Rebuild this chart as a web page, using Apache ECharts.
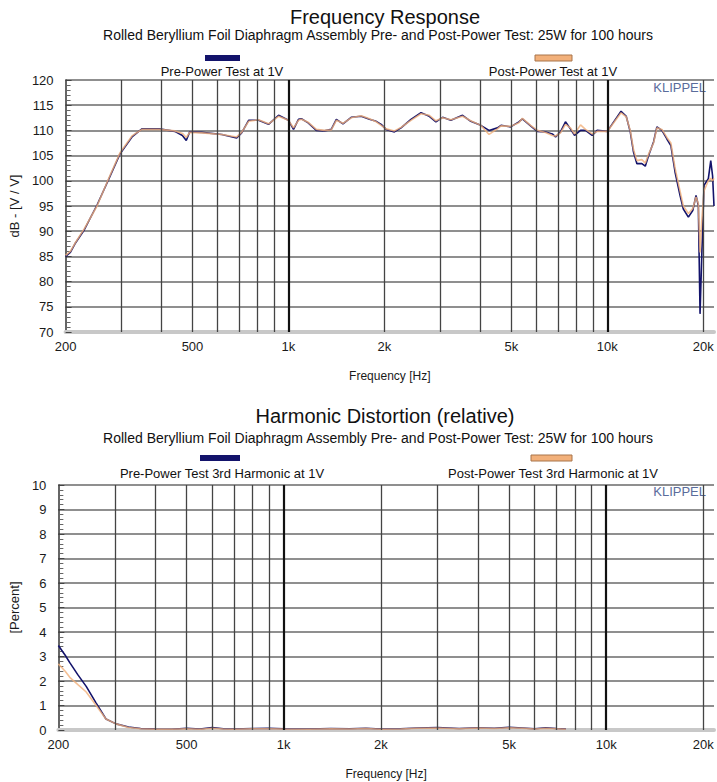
<!DOCTYPE html>
<html>
<head>
<meta charset="utf-8">
<script src="https://cdn.jsdelivr.net/npm/echarts@6/dist/echarts.min.js"></script>
<style>html,body{margin:0;padding:0;background:#fff}#c{width:717px;height:782px}</style>
</head>
<body>
<div id="c"></div>
<script>
// ---------- Frequency response (dB) ----------
const freqFR = [200,207,214,229,251,274,296,323,347,393,440,465,478,490,535,618,688,713,750,806,866,931,1000,1037,1075,1098,1153,1223,1296,1362,1413,1482,1573,1691,1795,1884,1953,2025,2149,2254,2422,2604,2765,2900,3044,3230,3515,3730,4010,4256,4521,4640,4975,5280,5415,5745,6030,6400,6720,6880,7130,7390,7660,7890,8240,8540,8960,9290,10000,10470,11040,11460,11800,12080,12380,12830,13150,13470,13960,14300,14830,15370,15820,16310,16900,17310,17950,18530,18970,19290,19530,19770,20100,20730,21100,21380,21600];
const preFR = [85.0,85.8,87.5,90.3,95.2,100.5,105.3,108.7,110.3,110.3,109.8,109.0,108.0,109.7,109.6,109.2,108.5,109.5,112.0,112.0,111.2,113.0,112.0,110.2,112.2,112.3,111.5,110.0,109.9,110.2,112.2,111.3,112.6,112.8,112.2,111.8,111.2,110.2,109.7,110.5,112.2,113.5,112.8,111.7,112.6,112.0,113.0,111.8,111.0,110.0,110.5,111.0,110.7,111.7,112.3,110.9,109.8,109.7,109.3,108.7,109.7,111.7,110.3,109.0,110.0,110.0,109.0,110.0,109.8,111.7,113.8,112.8,109.7,105.7,103.4,103.4,102.9,105.0,107.7,110.7,110.0,108.3,107.0,101.7,97.1,94.4,92.8,94.1,97.1,95.1,73.6,85.0,99.1,100.4,104.0,101.0,95.0];
const postFR = [85.2,86.0,87.6,90.5,95.0,100.7,105.5,108.9,110.2,110.2,109.9,109.4,108.6,109.6,109.5,109.2,108.7,109.6,111.8,112.1,111.3,112.8,112.0,110.5,112.0,112.2,111.6,110.2,110.0,110.1,112.0,111.4,112.5,112.9,112.3,111.7,111.0,110.3,109.9,110.6,112.0,113.3,113.0,111.9,112.5,112.1,112.8,111.9,111.0,109.2,110.3,110.9,110.8,111.5,112.4,111.0,110.0,109.6,109.0,108.9,109.5,111.2,110.5,109.3,111.1,110.2,109.3,109.8,109.8,111.5,113.5,112.7,110.0,106.2,104.0,104.2,103.5,105.3,107.5,110.5,110.2,108.6,107.5,102.5,98.0,95.0,93.5,94.5,96.8,95.5,85.8,92.0,98.0,100.0,100.5,100.0,100.5];

// ---------- 3rd harmonic distortion (%) ----------
const freqHD = [200,210,217,230,244,262,281,302,330,360,400,450,500,550,600,650,700,800,900,1000,1200,1400,1600,1800,2000,2300,2600,3000,3500,4000,4500,5000,5500,6000,6500,7000,7500];
const preHD  = [3.45,3.05,2.75,2.25,1.78,1.1,0.45,0.25,0.12,0.06,0.04,0.03,0.07,0.04,0.1,0.05,0.04,0.06,0.07,0.05,0.04,0.06,0.05,0.07,0.04,0.05,0.08,0.1,0.06,0.09,0.07,0.11,0.08,0.05,0.09,0.06,0.04];
const postHD = [2.7,2.4,2.15,1.85,1.55,1.0,0.45,0.25,0.1,0.05,0.03,0.03,0.05,0.03,0.07,0.04,0.03,0.05,0.05,0.04,0.03,0.05,0.04,0.06,0.03,0.04,0.07,0.08,0.05,0.08,0.06,0.09,0.07,0.04,0.07,0.05,0.03];

// ---------- axis ticks / labels ----------
const xLabelValues = [200,500,1000,2000,5000,10000,20000];
const xLabelText = {200:'200',500:'500',1000:'1k',2000:'2k',5000:'5k',10000:'10k',20000:'20k'};
const xGridValues = [300,400,500,600,700,800,900,1000,2000,3000,4000,5000,6000,7000,8000,9000,10000,20000];
const xMajorGrid = [1000,10000];
const xMin = 200, xMax = 21600;
const yFR = {min:70, max:120, interval:5};
const yHD = {min:0, max:10, interval:1};

const NAVY = '#13136b', ORANGE = '#f2b07a';
const FONT = 'Liberation Sans, Arial, sans-serif';

function pairs(xs, ys){ return xs.map((x,i)=>[x, ys[i]]); }

function xAxisCfg(gridIndex){
  return {
    type:'log', logBase:10, gridIndex, min:xMin, max:xMax,
    name:'Frequency [Hz]', nameLocation:'middle', nameGap:38,
    nameTextStyle:{fontSize:12, color:'#1a1a1a', fontFamily:FONT},
    axisLine:{show:true, lineStyle:{color:'#c8c8c8', width:4}},
    axisTick:{show:false}, splitLine:{show:false}, minorTick:{show:false},
    axisLabel:{customValues:xLabelValues, formatter:v=>xLabelText[Math.round(v)]||'', fontSize:13, color:'#1a1a1a', fontFamily:FONT, margin:8}
  };
}
function yAxisCfg(gridIndex, cfg, name, gap){
  return {
    type:'value', gridIndex, min:cfg.min, max:cfg.max, interval:cfg.interval,
    name, nameLocation:'middle', nameGap:gap,
    nameTextStyle:{fontSize:13, color:'#1a1a1a', fontFamily:FONT},
    axisLine:{show:true, lineStyle:{color:'#333', width:1.5}},
    axisTick:{show:true, inside:true, length:6, lineStyle:{color:'#444'}},
    minorTick:{show:true, splitNumber:5, length:5, lineStyle:{color:'#666'}},
    axisLabel:{fontSize:13, color:'#1a1a1a', fontFamily:FONT, margin:12},
    splitLine:{show:true, lineStyle:{color:'#6a6a6a', width:1.5}}
  };
}
function gridSeries(idx){
  return {
    type:'line', xAxisIndex:idx, yAxisIndex:idx, data:[], z:1, silent:true,
    markLine:{silent:true, symbol:'none', animation:false, label:{show:false},
      data: xGridValues.map(v=>({xAxis:v, lineStyle: xMajorGrid.includes(v)
        ? {color:'#111', width:2.2, type:'solid'} : {color:'#444', width:1.3, type:'solid'}}))}
  };
}

const chart = echarts.init(document.getElementById('c'), null, {renderer:'svg'});
const SUB = 'Rolled Beryllium Foil Diaphragm Assembly Pre- and Post-Power Test: 25W for 100 hours';
const titleStyle = {fontSize:20, fontWeight:'normal', color:'#111', fontFamily:FONT};
const subStyle = {fontSize:14, fontWeight:'normal', color:'#111', fontFamily:FONT};
const legFont = '13px ' + FONT;

chart.setOption({
  animation:false,
  backgroundColor:'#fff',
  title:[
    {text:'Frequency Response', left:385, top:7, textAlign:'center', padding:0, textStyle:titleStyle},
    {text:SUB, left:378, top:28, textAlign:'center', padding:0, textStyle:subStyle},
    {text:'Harmonic Distortion (relative)', left:385, top:406, textAlign:'center', padding:0, textStyle:titleStyle},
    {text:SUB, left:378, top:431, textAlign:'center', padding:0, textStyle:subStyle}
  ],
  graphic:[
    {type:'rect', shape:{x:205,y:55,width:35,height:6}, style:{fill:NAVY}},
    {type:'text', x:222, y:71, style:{text:'Pre-Power Test at 1V', font:legFont, fill:'#111', textAlign:'center', textVerticalAlign:'middle'}},
    {type:'rect', shape:{x:535,y:55,width:37,height:6}, style:{fill:ORANGE, stroke:'#a8744a', lineWidth:1}},
    {type:'text', x:553, y:71, style:{text:'Post-Power Test at 1V', font:legFont, fill:'#111', textAlign:'center', textVerticalAlign:'middle'}},
    {type:'text', x:706, y:87, style:{text:'KLIPPEL', font:'13px '+FONT, fill:'#5a6c9c', textAlign:'right', textVerticalAlign:'middle'}},
    {type:'rect', shape:{x:200,y:455,width:40,height:6}, style:{fill:NAVY}},
    {type:'text', x:222, y:473, style:{text:'Pre-Power Test 3rd Harmonic at 1V', font:legFont, fill:'#111', textAlign:'center', textVerticalAlign:'middle'}},
    {type:'rect', shape:{x:531,y:455,width:41,height:6}, style:{fill:ORANGE, stroke:'#a8744a', lineWidth:1}},
    {type:'text', x:553, y:473, style:{text:'Post-Power Test 3rd Harmonic at 1V', font:legFont, fill:'#111', textAlign:'center', textVerticalAlign:'middle'}},
    {type:'text', x:706, y:491, style:{text:'KLIPPEL', font:'13px '+FONT, fill:'#5a6c9c', textAlign:'right', textVerticalAlign:'middle'}}
  ],
  grid:[
    {left:63, right:3, top:80, height:252, containLabel:false},
    {left:55, right:3, top:485, height:245, containLabel:false}
  ],
  xAxis:[xAxisCfg(0), xAxisCfg(1)],
  yAxis:[yAxisCfg(0, yFR, 'dB - [V / V]', 38), yAxisCfg(1, yHD, '[Percent]', 34)],
  series:[
    gridSeries(0),
    gridSeries(1),
    {name:'Pre-Power Test at 1V', type:'line', xAxisIndex:0, yAxisIndex:0, data:pairs(freqFR, preFR), showSymbol:false, z:3, lineStyle:{color:NAVY, width:1.6}, itemStyle:{color:NAVY}},
    {name:'Post-Power Test at 1V', type:'line', xAxisIndex:0, yAxisIndex:0, data:pairs(freqFR, postFR), showSymbol:false, z:4, lineStyle:{color:ORANGE, width:1.6, opacity:0.8}, itemStyle:{color:ORANGE}},
    {name:'Pre-Power Test 3rd Harmonic at 1V', type:'line', xAxisIndex:1, yAxisIndex:1, data:pairs(freqHD, preHD), showSymbol:false, z:3, lineStyle:{color:NAVY, width:1.6}, itemStyle:{color:NAVY}},
    {name:'Post-Power Test 3rd Harmonic at 1V', type:'line', xAxisIndex:1, yAxisIndex:1, data:pairs(freqHD, postHD), showSymbol:false, z:4, lineStyle:{color:ORANGE, width:1.6, opacity:0.8}, itemStyle:{color:ORANGE}}
  ]
});
</script>
</body>
</html>
